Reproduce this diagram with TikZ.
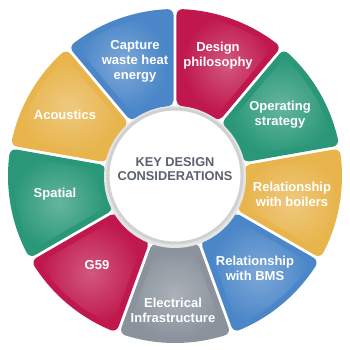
\documentclass[tikz,border=0pt]{standalone}
\usepackage{fontspec}
\setmainfont{Liberation Sans}
\definecolor{cblue}{HTML}{4A86C8}
\definecolor{cred}{HTML}{C0184C}
\definecolor{cgreen}{HTML}{2A9878}
\definecolor{cyellow}{HTML}{E8B44C}
\definecolor{cgray}{HTML}{8A939C}
\definecolor{ctext}{HTML}{5A6270}
\begin{document}
\begin{tikzpicture}[x=1pt,y=1pt,
  seglabel/.style={text=white,font=\bfseries\fontsize{13}{15}\selectfont,align=center},
  segbase/.style={line width=12pt,line join=round}]
\useasboundingbox[fill=white] (-175,-174) rectangle (175,176);
\def\ri{76}\def\ro{161}
\pgfmathsetmacro{\ai}{asin(7.5/\ri)}
\pgfmathsetmacro{\ao}{asin(7.5/\ro)}
\foreach \a/\c in {270/cgray,310/cblue,350/cyellow,30/cgreen,70/cred,110/cblue,150/cyellow,190/cgreen,230/cred}{
  \pgfmathsetmacro{\pa}{\a-20+\ai}
  \pgfmathsetmacro{\pb}{\a-20+\ao}
  \pgfmathsetmacro{\pc}{\a+20-\ao}
  \pgfmathsetmacro{\pd}{\a+20-\ai}
  \path[segbase,fill=\c,draw=\c]
    (\pa:\ri) -- (\pb:\ro) arc[start angle=\pb,end angle=\pc,radius=\ro]
    -- (\pd:\ri) arc[start angle=\pd,end angle=\pa,radius=\ri] -- cycle;
  \path[inner color=\c!72!white,outer color=\c,shade]
    (\pa:\ri) -- (\pb:\ro) arc[start angle=\pb,end angle=\pc,radius=\ro]
    -- (\pd:\ri) arc[start angle=\pd,end angle=\pa,radius=\ri] -- cycle;
}
\fill[black!10] (0,-1) circle[radius=71];
\node[circle,minimum size=134pt,fill=white,draw=black!18,line width=3pt,inner sep=0pt] (hub) at (0,0) {};
\node[text=ctext,font=\bfseries\fontsize{12.8}{14}\selectfont,align=center] (ctr) at (0,7) {KEY DESIGN\\CONSIDERATIONS};
\node[seglabel] (capture) at (-40,115) {Capture\\waste heat\\energy};
\node[seglabel] (design) at (43,120) {Design\\philosophy};
\node[seglabel] (oper) at (105,61) {Operating\\strategy};
\node[seglabel] (boil) at (117,-18) {Relationship\\with boilers};
\node[seglabel] (bms) at (80,-92) {Relationship\\with BMS};
\node[seglabel] (elec) at (-2,-134) {Electrical\\Infrastructure};
\node[seglabel] (g59) at (-78,-89) {G59};
\node[seglabel] (spatial) at (-120,-18) {Spatial};
\node[seglabel] (acou) at (-110,61) {Acoustics};
\end{tikzpicture}
\end{document}
